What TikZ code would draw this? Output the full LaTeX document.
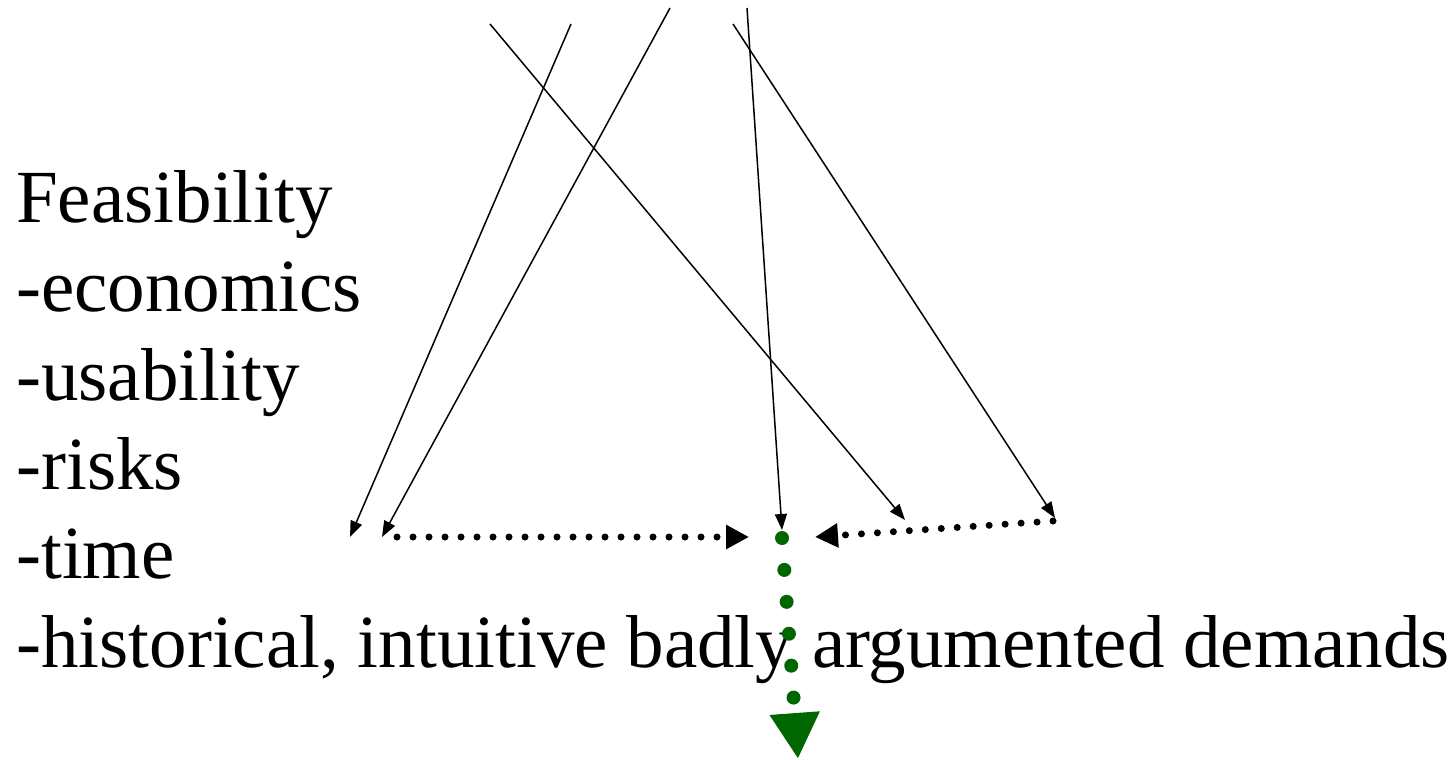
\documentclass[tikz,border=0pt]{standalone}
\usepackage{fontspec}
\setmainfont{Liberation Serif}
\usepackage{tikz}
\usetikzlibrary{arrows.meta}
\definecolor{FlowGreen}{HTML}{006600}

\begin{document}
\begin{tikzpicture}[
    x=1pt, y=-1pt,
    item/.style={anchor=base west, inner sep=0pt, font=\fontsize{75}{90}\selectfont},
    feed/.style={-{Triangle[length=16pt,width=12pt]}, line width=1.5pt},
    dots/.style={-{Triangle[length=23pt,width=23pt]}, line width=7pt, line cap=round,
                 dash pattern=on 0pt off 16pt},
    gdots/.style={-{Triangle[length=46pt,width=47pt]}, FlowGreen, line width=14pt,
                  line cap=round, dash pattern=on 0pt off 32pt},
  ]
    \useasboundingbox (0,0) rectangle (1454,760);
    % ---- list of criteria ----
    \node[item] (feas) at (16,222) {Feasibility};
    \node[item] (econ) at (16,311) {-economics};
    \node[item] (usab) at (16,400) {-usability};
    \node[item] (risk) at (16,489) {-risks};
    \node[item] (time) at (16,578) {-time};
    \node[item] (hist) at (16,667) {-historical, intuitive badly argumented demands};
    % ---- incoming lines ----
    \coordinate (inA) at (571,24);  \coordinate (endA) at (350,537);
    \coordinate (inB) at (670,8);   \coordinate (endB) at (382,537);
    \coordinate (inC) at (490,24);  \coordinate (endC) at (905,520);
    \coordinate (inD) at (747,8);   \coordinate (endD) at (782,530);
    \coordinate (inE) at (733,24);  \coordinate (endE) at (1055,518);
    \draw[feed] (inA) -- (endA);
    \draw[feed] (inB) -- (endB);
    \draw[feed] (inC) -- (endC);
    \draw[feed] (inD) -- (endD);
    \draw[feed] (inE) -- (endE);
    % ---- dotted merges ----
    \coordinate (lstart) at (397,537); \coordinate (lend) at (749,537);
    \coordinate (rstart) at (1053,521); \coordinate (rend) at (815,537);
    \draw[dots] (lstart) -- (lend);
    \draw[dots] (rstart) -- (rend);
    % ---- result ----
    \coordinate (out) at (782,538); \coordinate (sink) at (798,759);
    \draw[gdots] (out) -- (sink);
  \end{tikzpicture}
\end{document}
